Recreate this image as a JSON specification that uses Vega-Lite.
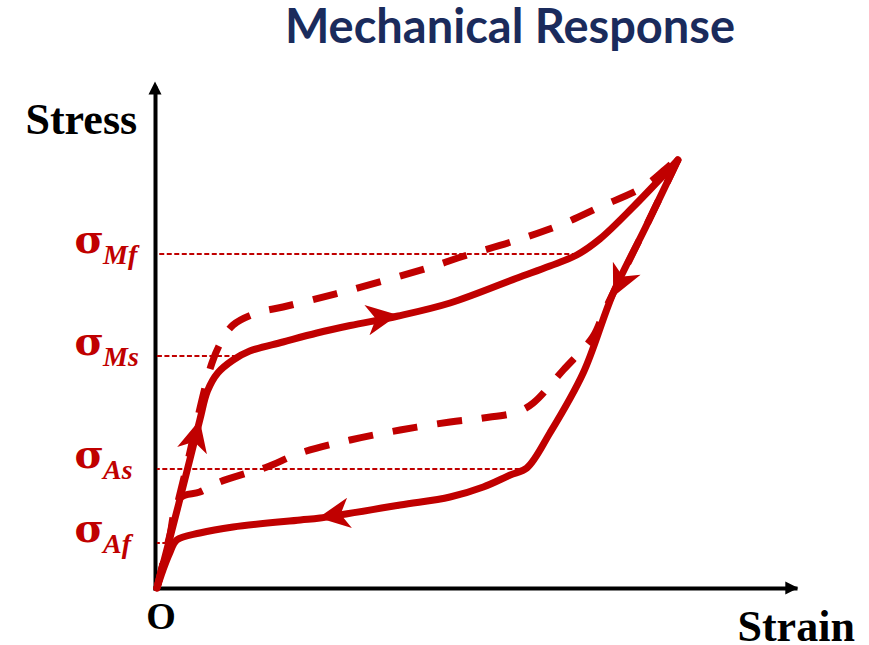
{
  "$schema": "https://vega.github.io/schema/vega-lite/v6.json",
  "width": 640,
  "height": 500,
  "autosize": "none",
  "padding": {"left": 155, "top": 88, "right": 74, "bottom": 57},
  "background": "white",
  "config": {
    "view": {"stroke": null},
    "axis": {
      "domainColor": "black",
      "domainWidth": 4,
      "domainCap": "square",
      "ticks": false,
      "labels": false,
      "grid": false,
      "titleFont": "Liberation Serif",
      "titleFontSize": 44,
      "titleFontWeight": "bold",
      "titleColor": "black",
      "titleAngle": 0,
      "titleBaseline": "alphabetic",
      "titleAlign": "left",
      "titlePadding": 0
    }
  },
  "title": {
    "text": "Mechanical Response",
    "font": "Lato",
    "fontSize": 47,
    "fontWeight": "bold",
    "color": "#1a2b5c",
    "anchor": "middle",
    "frame": "group",
    "baseline": "alphabetic",
    "dx": 35,
    "offset": -8
  },
  "datasets": {
    "curves": [
      {"branch": "solid load", "style": "solid", "i": 1, "x": 0.03, "y": 0},
      {"branch": "solid load", "style": "solid", "i": 2, "x": 0.37, "y": 1.68},
      {"branch": "solid load", "style": "solid", "i": 3, "x": 0.70, "y": 3.36},
      {"branch": "solid load", "style": "solid", "i": 4, "x": 0.82, "y": 3.94},
      {"branch": "solid load", "style": "solid", "i": 5, "x": 0.98, "y": 4.30},
      {"branch": "solid load", "style": "solid", "i": 6, "x": 1.22, "y": 4.56},
      {"branch": "solid load", "style": "solid", "i": 7, "x": 1.48, "y": 4.74},
      {"branch": "solid load", "style": "solid", "i": 8, "x": 2.00, "y": 4.92},
      {"branch": "solid load", "style": "solid", "i": 9, "x": 2.53, "y": 5.10},
      {"branch": "solid load", "style": "solid", "i": 10, "x": 3.05, "y": 5.25},
      {"branch": "solid load", "style": "solid", "i": 11, "x": 3.80, "y": 5.44},
      {"branch": "solid load", "style": "solid", "i": 12, "x": 4.61, "y": 5.70},
      {"branch": "solid load", "style": "solid", "i": 13, "x": 5.66, "y": 6.20},
      {"branch": "solid load", "style": "solid", "i": 14, "x": 6.17, "y": 6.44},
      {"branch": "solid load", "style": "solid", "i": 15, "x": 6.59, "y": 6.66},
      {"branch": "solid load", "style": "solid", "i": 16, "x": 6.95, "y": 6.98},
      {"branch": "solid load", "style": "solid", "i": 17, "x": 7.47, "y": 7.62},
      {"branch": "solid load", "style": "solid", "i": 18, "x": 8.17, "y": 8.56},

      {"branch": "solid unload", "style": "solid", "i": 1, "x": 8.17, "y": 8.56},
      {"branch": "solid unload", "style": "solid", "i": 2, "x": 7.66, "y": 7.20},
      {"branch": "solid unload", "style": "solid", "i": 3, "x": 7.16, "y": 5.90},
      {"branch": "solid unload", "style": "solid", "i": 4, "x": 6.69, "y": 4.30},
      {"branch": "solid unload", "style": "solid", "i": 5, "x": 6.17, "y": 3.10},
      {"branch": "solid unload", "style": "solid", "i": 6, "x": 5.81, "y": 2.40},
      {"branch": "solid unload", "style": "solid", "i": 7, "x": 5.55, "y": 2.26},
      {"branch": "solid unload", "style": "solid", "i": 8, "x": 5.13, "y": 2.02},
      {"branch": "solid unload", "style": "solid", "i": 9, "x": 4.61, "y": 1.82},
      {"branch": "solid unload", "style": "solid", "i": 10, "x": 3.83, "y": 1.66},
      {"branch": "solid unload", "style": "solid", "i": 11, "x": 2.58, "y": 1.40},
      {"branch": "solid unload", "style": "solid", "i": 12, "x": 2.27, "y": 1.36},
      {"branch": "solid unload", "style": "solid", "i": 13, "x": 1.22, "y": 1.22},
      {"branch": "solid unload", "style": "solid", "i": 14, "x": 0.70, "y": 1.10},
      {"branch": "solid unload", "style": "solid", "i": 15, "x": 0.34, "y": 0.96},
      {"branch": "solid unload", "style": "solid", "i": 16, "x": 0.23, "y": 0.70},
      {"branch": "solid unload", "style": "solid", "i": 17, "x": 0.125, "y": 0.36},
      {"branch": "solid unload", "style": "solid", "i": 18, "x": 0.03, "y": 0},

      {"branch": "dashed load", "style": "dashed", "i": 1, "x": 0.03, "y": 0},
      {"branch": "dashed load", "style": "dashed", "i": 2, "x": 0.46, "y": 2.25},
      {"branch": "dashed load", "style": "dashed", "i": 3, "x": 0.89, "y": 4.50},
      {"branch": "dashed load", "style": "dashed", "i": 4, "x": 1.05, "y": 4.96},
      {"branch": "dashed load", "style": "dashed", "i": 5, "x": 1.22, "y": 5.26},
      {"branch": "dashed load", "style": "dashed", "i": 6, "x": 1.59, "y": 5.50},
      {"branch": "dashed load", "style": "dashed", "i": 7, "x": 2.00, "y": 5.62},
      {"branch": "dashed load", "style": "dashed", "i": 8, "x": 3.05, "y": 5.96},
      {"branch": "dashed load", "style": "dashed", "i": 9, "x": 4.41, "y": 6.46},
      {"branch": "dashed load", "style": "dashed", "i": 10, "x": 4.73, "y": 6.60},
      {"branch": "dashed load", "style": "dashed", "i": 11, "x": 5.66, "y": 6.96},
      {"branch": "dashed load", "style": "dashed", "i": 12, "x": 6.33, "y": 7.26},
      {"branch": "dashed load", "style": "dashed", "i": 13, "x": 6.95, "y": 7.62},
      {"branch": "dashed load", "style": "dashed", "i": 14, "x": 7.63, "y": 8.02},
      {"branch": "dashed load", "style": "dashed", "i": 15, "x": 8.09, "y": 8.50},
      {"branch": "dashed load", "style": "dashed", "i": 16, "x": 8.17, "y": 8.56},

      {"branch": "dashed unload", "style": "dashed", "i": 1, "x": 8.17, "y": 8.56},
      {"branch": "dashed unload", "style": "dashed", "i": 2, "x": 7.66, "y": 7.20},
      {"branch": "dashed unload", "style": "dashed", "i": 3, "x": 7.03, "y": 5.56},
      {"branch": "dashed unload", "style": "dashed", "i": 4, "x": 6.84, "y": 5.02},
      {"branch": "dashed unload", "style": "dashed", "i": 5, "x": 6.38, "y": 4.36},
      {"branch": "dashed unload", "style": "dashed", "i": 6, "x": 5.91, "y": 3.70},
      {"branch": "dashed unload", "style": "dashed", "i": 7, "x": 5.66, "y": 3.52},
      {"branch": "dashed unload", "style": "dashed", "i": 8, "x": 5.13, "y": 3.40},
      {"branch": "dashed unload", "style": "dashed", "i": 9, "x": 4.61, "y": 3.32},
      {"branch": "dashed unload", "style": "dashed", "i": 10, "x": 3.83, "y": 3.16},
      {"branch": "dashed unload", "style": "dashed", "i": 11, "x": 3.05, "y": 2.96},
      {"branch": "dashed unload", "style": "dashed", "i": 12, "x": 2.27, "y": 2.70},
      {"branch": "dashed unload", "style": "dashed", "i": 13, "x": 1.75, "y": 2.42},
      {"branch": "dashed unload", "style": "dashed", "i": 14, "x": 1.44, "y": 2.30},
      {"branch": "dashed unload", "style": "dashed", "i": 15, "x": 0.97, "y": 2.10},
      {"branch": "dashed unload", "style": "dashed", "i": 16, "x": 0.70, "y": 1.92},
      {"branch": "dashed unload", "style": "dashed", "i": 17, "x": 0.39, "y": 1.80},
      {"branch": "dashed unload", "style": "dashed", "i": 18, "x": 0.21, "y": 0.90},
      {"branch": "dashed unload", "style": "dashed", "i": 19, "x": 0.03, "y": 0}
    ],
    "levels": [
      {"sigma": "σ", "label": "Mf", "stress": 6.68, "end": 6.59},
      {"sigma": "σ", "label": "Ms", "stress": 4.64, "end": 1.28},
      {"sigma": "σ", "label": "As", "stress": 2.38, "end": 5.70},
      {"sigma": "σ", "label": "Af", "stress": 0.90, "end": 0.31}
    ],
    "arrows": [
      {"x": 0.63, "y": 3.01, "heading": 14},
      {"x": 3.52, "y": 5.40, "heading": 80.5},
      {"x": 7.28, "y": 6.15, "heading": 205.4},
      {"x": 2.83, "y": 1.46, "heading": 261}
    ],
    "origin": [{"x": 0, "y": 0, "label": "O"}],
    "axisEnds": [
      {"axis": "stress", "x": 0, "y": 10},
      {"axis": "strain", "x": 9.95, "y": 0}
    ]
  },
  "layer": [
    {
      "data": {"name": "curves"},
      "transform": [{"filter": "datum.style === 'solid'"}],
      "mark": {"type": "line", "color": "#c00000", "strokeWidth": 7, "strokeCap": "round", "strokeJoin": "round", "interpolate": "catmull-rom", "clip": false},
      "encoding": {
        "x": {"field": "x", "type": "quantitative", "scale": {"domain": [0, 10], "nice": false, "zero": false},
              "axis": {"title": "Strain", "titleX": 582, "titleY": 52}},
        "y": {"field": "y", "type": "quantitative", "scale": {"domain": [0, 10], "nice": false, "zero": false},
              "axis": {"title": "Stress", "titleX": -130, "titleY": 45}},
        "detail": {"field": "branch", "type": "nominal"},
        "order": {"field": "i", "type": "quantitative"}
      }
    },
    {
      "data": {"name": "levels"},
      "mark": {"type": "rule", "color": "#c00000", "strokeWidth": 1.8, "strokeDash": [5, 2.5]},
      "encoding": {
        "x": {"field": "end", "type": "quantitative"},
        "x2": {"datum": 0.03},
        "y": {"field": "stress", "type": "quantitative"}
      }
    },
    {
      "data": {"name": "curves"},
      "transform": [{"filter": "datum.style === 'dashed'"}],
      "mark": {"type": "line", "color": "#c00000", "strokeWidth": 7, "strokeDash": [25, 20], "strokeCap": "butt", "interpolate": "catmull-rom", "clip": false},
      "encoding": {
        "x": {"field": "x", "type": "quantitative"},
        "y": {"field": "y", "type": "quantitative"},
        "detail": {"field": "branch", "type": "nominal"},
        "order": {"field": "i", "type": "quantitative"}
      }
    },
    {
      "data": {"name": "arrows"},
      "mark": {"type": "point", "shape": "M0,-1L0.85,0.75L0,0.25L-0.85,0.75Z", "filled": true, "color": "#c00000", "opacity": 1, "size": 1300, "strokeWidth": 0},
      "encoding": {
        "x": {"field": "x", "type": "quantitative"},
        "y": {"field": "y", "type": "quantitative"},
        "angle": {"field": "heading", "type": "quantitative", "scale": null}
      }
    },
    {
      "data": {"name": "axisEnds"},
      "transform": [{"filter": "datum.axis === 'stress'"}],
      "mark": {"type": "point", "shape": "M0,-1L1,1L-1,1Z", "filled": true, "color": "black", "opacity": 1, "size": 169, "strokeWidth": 0, "clip": false},
      "encoding": {
        "x": {"field": "x", "type": "quantitative"},
        "y": {"field": "y", "type": "quantitative"}
      }
    },
    {
      "data": {"name": "axisEnds"},
      "transform": [{"filter": "datum.axis === 'strain'"}],
      "mark": {"type": "point", "shape": "M1,0L-1,-1L-1,1Z", "filled": true, "color": "black", "opacity": 1, "size": 169, "strokeWidth": 0, "clip": false},
      "encoding": {
        "x": {"field": "x", "type": "quantitative"},
        "y": {"field": "y", "type": "quantitative"}
      }
    },
    {
      "data": {"name": "origin"},
      "mark": {"type": "text", "font": "Liberation Serif", "fontSize": 38, "fontWeight": "bold", "color": "black", "align": "center", "baseline": "alphabetic", "dx": 6, "dy": 41},
      "encoding": {
        "x": {"field": "x", "type": "quantitative"},
        "y": {"field": "y", "type": "quantitative"},
        "text": {"field": "label", "type": "nominal"}
      }
    },
    {
      "data": {"name": "levels"},
      "mark": {"type": "text", "font": "DejaVu Serif", "fontSize": 40, "fontWeight": "bold", "color": "#c00000", "align": "right", "baseline": "alphabetic", "dx": -51, "dy": -1},
      "encoding": {
        "x": {"datum": 0, "type": "quantitative"},
        "y": {"field": "stress", "type": "quantitative"},
        "text": {"field": "sigma", "type": "nominal"}
      }
    },
    {
      "data": {"name": "levels"},
      "mark": {"type": "text", "font": "Liberation Serif", "fontSize": 28, "fontWeight": "bold", "fontStyle": "italic", "color": "#c00000", "align": "left", "baseline": "alphabetic", "dx": -52, "dy": 10},
      "encoding": {
        "x": {"datum": 0, "type": "quantitative"},
        "y": {"field": "stress", "type": "quantitative"},
        "text": {"field": "label", "type": "nominal"}
      }
    }
  ]
}
